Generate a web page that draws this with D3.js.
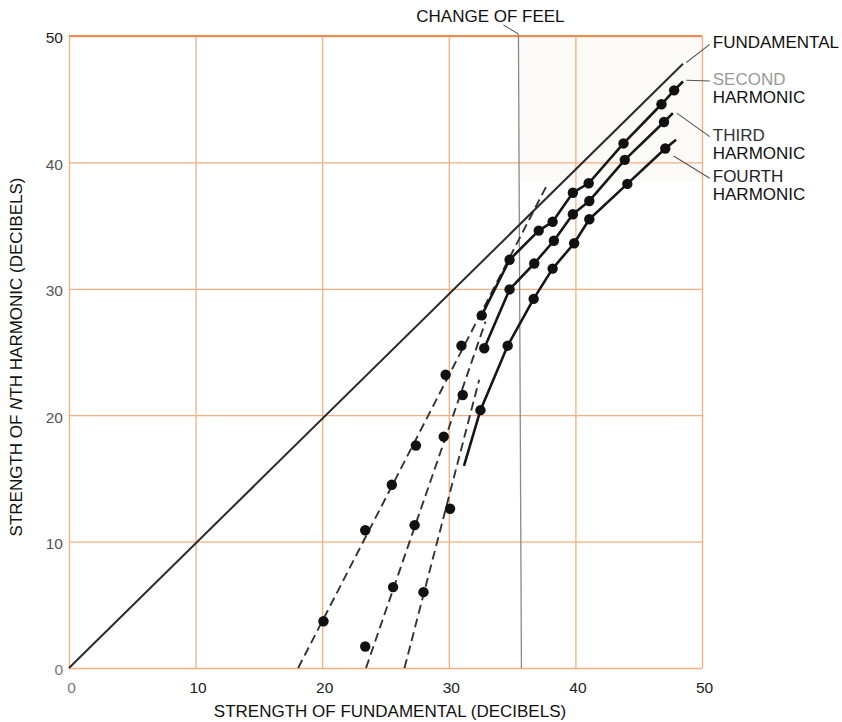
<!DOCTYPE html>
<html><head><meta charset="utf-8">
<script src="https://cdn.jsdelivr.net/npm/d3@7"></script>
<style>
body{margin:0;background:#fff;}
svg{display:block;font-family:"Liberation Sans",Arial,sans-serif;}
</style></head>
<body><svg id="c" width="842" height="722"></svg>
<script>
// ---------- data ----------
const xTicks = [0,10,20,30,40,50];
const yTicks = [0,10,20,30,40,50];
const changeOfFeel = 35.5;

const fundamentalLine = [[0,0],[48.5,47.8]];

const secondPoints = [[20.1,3.7],[23.4,10.9],[25.5,14.5],[27.4,17.6],[29.75,23.2],[31.0,25.5],
  [32.6,27.9],[34.8,32.3],[37.1,34.6],[38.2,35.3],[39.8,37.6],[41.05,38.35],[43.8,41.5],[46.8,44.6],[47.8,45.7]];
const secondDashed = [[18.1,0],[37.8,38.3]];
const secondSolid = [[32.6,27.9],[34.8,32.3],[37.1,34.6],[38.2,35.3],[39.8,37.6],[41.05,38.35],[43.8,41.5],[46.8,44.6],[47.8,45.7],[48.5,46.4]];

const thirdPoints = [[23.4,1.7],[25.6,6.4],[27.3,11.3],[29.6,18.3],[31.1,21.6],
  [32.8,25.3],[34.8,29.95],[36.75,32.0],[38.3,33.8],[39.8,35.9],[41.1,36.95],[43.9,40.2],[47.0,43.2]];
const thirdDashed = [[23.46,0],[32.9,27.4]];
const thirdSolid = [[32.8,25.3],[34.8,29.95],[36.75,32.0],[38.3,33.8],[39.8,35.9],[41.1,36.95],[43.9,40.2],[47.0,43.2],[47.7,43.9]];

const fourthPoints = [[28.0,6.0],[30.1,12.6],[32.5,20.4],[34.65,25.5],[36.7,29.2],[38.2,31.6],[39.9,33.6],[41.1,35.5],[44.1,38.3],[47.1,41.1]];
const fourthDashed = [[26.5,0],[32.4,22.8]];
const fourthSolid = [[31.2,16.0],[32.5,20.4],[34.65,25.5],[36.7,29.2],[38.2,31.6],[39.9,33.6],[41.1,35.5],[44.1,38.3],[47.1,41.1],[47.95,41.8]];

const seriesLabels = [
  {lines:["FUNDAMENTAL"], end:[48.6,47.9], label:[50.85,49.5], color:"#111"},
  {lines:["SECOND","HARMONIC"], end:[48.6,46.5], label:[50.85,46.6], color:"#999"},
  {lines:["THIRD","HARMONIC"], end:[47.85,43.9], label:[50.85,42.2], color:"#333"},
  {lines:["FOURTH","HARMONIC"], end:[47.6,40.5], label:[50.85,38.9], color:"#222"}
];

// ---------- layout ----------
const svg = d3.select("#c");
const L = 69, T = 36, W = 633, H = 632;
const x = d3.scaleLinear().domain([0,50]).range([L, L+W]);
const y = d3.scaleLinear().domain([0,50]).range([T+H, T]);
const grid = "#f5ae80";

// faint shaded region after change of feel
svg.append("rect")
  .attr("x", x(changeOfFeel)).attr("y", y(50))
  .attr("width", x(50)-x(changeOfFeel)).attr("height", y(38.5)-y(50))
  .attr("fill", "#fbfaf7");

// grid
svg.append("g").attr("transform",`translate(0,${T+H})`)
  .call(d3.axisBottom(x).tickValues(xTicks).tickSize(-H).tickFormat(""))
  .call(g=>g.select(".domain").remove())
  .call(g=>g.selectAll("line").attr("stroke",grid).attr("stroke-width",1.3));
svg.append("g").attr("transform",`translate(${L},0)`)
  .call(d3.axisLeft(y).tickValues(yTicks).tickSize(-W).tickFormat(""))
  .call(g=>g.select(".domain").remove())
  .call(g=>g.selectAll("line").attr("stroke",grid).attr("stroke-width",1.3));
svg.append("line").attr("x1",x(0)).attr("x2",x(50)).attr("y1",y(50)).attr("y2",y(50))
  .attr("stroke","#f08c50").attr("stroke-width",2);

// tick labels
svg.append("g").attr("transform",`translate(2,${T+H+14})`)
  .call(d3.axisBottom(x).tickValues(xTicks).tickSize(0).tickPadding(0))
  .call(g=>g.select(".domain").remove())
  .call(g=>g.selectAll("text").attr("font-size",15.5).attr("fill",(d)=>d===0?"#777":"#222")
        .attr("font-family","Liberation Sans, Arial, sans-serif"));
svg.append("g").attr("transform",`translate(${L-6},2)`)
  .call(d3.axisLeft(y).tickValues(yTicks).tickSize(0).tickPadding(0))
  .call(g=>g.select(".domain").remove())
  .call(g=>g.selectAll("text").attr("font-size",15.5).attr("fill",(d)=>d===0?"#777":(d===50?"#222":"#555"))
        .attr("font-family","Liberation Sans, Arial, sans-serif"));

// change of feel line
svg.append("line").attr("x1",x(changeOfFeel)).attr("x2",x(changeOfFeel)+3)
  .attr("y1",y(50)-2).attr("y2",y(0)).attr("stroke","#8a8a8a").attr("stroke-width",1.3);
svg.append("line").attr("x1",x(changeOfFeel)-15).attr("y1",y(50)-11)
  .attr("x2",x(changeOfFeel)).attr("y2",y(50)-2).attr("stroke","#444").attr("stroke-width",1);
svg.append("text").attr("x",x(changeOfFeel)-28).attr("y",22).attr("text-anchor","middle")
  .attr("font-size",17).attr("fill","#111").text("CHANGE OF FEEL");

const line = d3.line().x(d=>x(d[0])).y(d=>y(d[1]));

// dashed extrapolations
[secondDashed, thirdDashed, fourthDashed].forEach(d=>{
  svg.append("path").attr("d",line(d)).attr("fill","none")
    .attr("stroke","#333").attr("stroke-width",1.9).attr("stroke-dasharray","9,5");
});

// fundamental
svg.append("path").attr("d",line(fundamentalLine)).attr("fill","none")
  .attr("stroke","#2a2a2a").attr("stroke-width",2);

// solid harmonic lines
[secondSolid, thirdSolid, fourthSolid].forEach(d=>{
  svg.append("path").attr("d",line(d)).attr("fill","none")
    .attr("stroke","#161616").attr("stroke-width",2.6).attr("stroke-linejoin","round");
});

// points
[secondPoints, thirdPoints, fourthPoints].forEach(pts=>{
  svg.append("g").selectAll("circle").data(pts).join("circle")
    .attr("cx",d=>x(d[0])).attr("cy",d=>y(d[1])).attr("r",5.2).attr("fill","#111");
});

// labels and leaders
seriesLabels.forEach(s=>{
  svg.append("line").attr("x1",x(s.end[0])+2).attr("y1",y(s.end[1]))
    .attr("x2",x(s.label[0])-3).attr("y2",y(s.label[1])+2)
    .attr("stroke","#555").attr("stroke-width",1.1);
  const t = svg.append("text").attr("x",x(s.label[0])).attr("y",y(s.label[1])+6)
    .attr("font-size",17);
  s.lines.forEach((ln,i)=>{
    t.append("tspan").attr("x",x(s.label[0])).attr("dy",i===0?0:18)
      .attr("fill", i===0 ? s.color : "#111").text(ln);
  });
});

// axis titles
svg.append("text").attr("x",390).attr("y",717).attr("text-anchor","middle")
  .attr("font-size",17).attr("fill","#111").text("STRENGTH OF FUNDAMENTAL (DECIBELS)");
const yt = svg.append("text").attr("transform","translate(22,357) rotate(-90)")
  .attr("text-anchor","middle").attr("font-size",17).attr("fill","#111");
yt.append("tspan").text("STRENGTH OF ");
yt.append("tspan").attr("font-style","italic").text("N");
yt.append("tspan").text("TH HARMONIC (DECIBELS)");
</script></body></html>
